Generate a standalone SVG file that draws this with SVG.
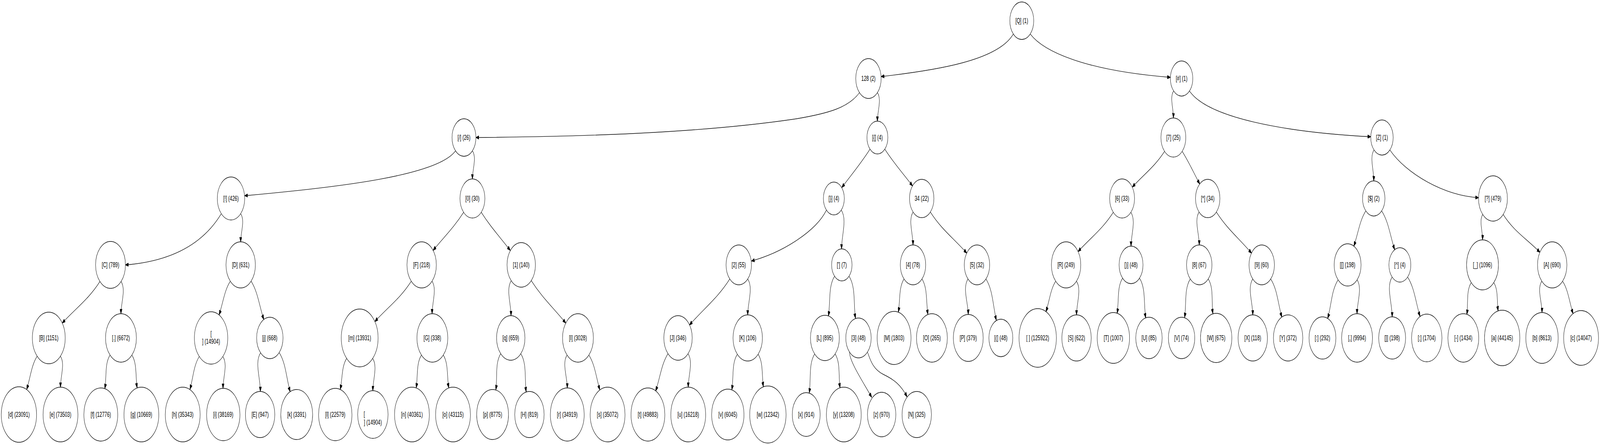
<svg xmlns="http://www.w3.org/2000/svg" width="6428" height="1139" viewBox="0 0 6428 1139" preserveAspectRatio="none">
<defs>
<style>
svg:root{width:100vw;height:100vh}
.node circle{fill:#fff;stroke:#000;stroke-width:1.35}
.node text{font-family:"Liberation Sans",Arial,sans-serif;font-size:18px;text-anchor:middle;fill:#000}
#edges path{fill:none;stroke:#000;stroke-width:1.35;marker-end:url(#ah)}
</style>
<marker id="ah" viewBox="0 0 13 9.5" refX="12.5" refY="4.75" markerWidth="13" markerHeight="9.5" markerUnits="userSpaceOnUse" orient="auto"><path d="M0,0 L13,4.75 L0,9.5 z" fill="#000" stroke="#000" stroke-width="1"/></marker>
</defs>
<rect width="6428" height="1139" fill="#fff"/>
<g id="edges">
<path d="M4071,87 C4010,155 3760,180 3540,196"/>
<path d="M4139,87 C4190,130 4350,180 4702,198"/>
<path d="M3453,237 C3410,275 3330,290 3200,304 C2800,342 2300,350 1912,352"/>
<path d="M3525,237 C3543,255 3525,284 3525,310"/>
<path d="M1830,386 C1760,450 1350,480 983,501"/>
<path d="M1898,386 C1916,404 1898,433 1898,458"/>
<path d="M889,547 C820,620 700,668 504,678"/>
<path d="M967,547 C985,565 967,594 967,619"/>
<path d="M402,720 C356,766 303,790 250,827"/>
<path d="M486,720 C507,741 486,774 486,803"/>
<path d="M149,912 C126,935 122,967 107,997"/>
<path d="M243,912 C262,931 243,963 243,991"/>
<path d="M442,909 C420,931 429,965 421,995"/>
<path d="M530,909 C551,930 544,964 551,993"/>
<path d="M925,720 C901,744 896,776 880,806"/>
<path d="M1009,720 C1036,747 1042,784 1060,818"/>
<path d="M801,912 C778,935 776,967 763,997"/>
<path d="M895,912 C916,933 896,965 896,994"/>
<path d="M1047,903 C1022,927 1046,967 1046,1002"/>
<path d="M1122,903 C1149,930 1150,968 1166,1003"/>
<path d="M1863,543 C1824,582 1783,607 1740,641"/>
<path d="M1933,543 C1971,581 2009,607 2050,641"/>
<path d="M1652,720 C1608,764 1557,787 1506,823"/>
<path d="M1736,720 C1756,740 1736,774 1736,803"/>
<path d="M1393,917 C1372,938 1376,969 1367,997"/>
<path d="M1497,917 C1518,938 1498,971 1498,1000"/>
<path d="M1693,909 C1672,930 1679,964 1672,993"/>
<path d="M1781,909 C1802,930 1795,964 1803,993"/>
<path d="M2054,718 C2032,741 2053,777 2053,808"/>
<path d="M2134,718 C2178,762 2225,789 2273,827"/>
<path d="M2012,905 C1988,929 1999,966 1992,998"/>
<path d="M2092,905 C2117,930 2107,969 2114,1003"/>
<path d="M2278,909 C2257,930 2279,964 2279,993"/>
<path d="M2366,909 C2391,934 2395,967 2410,998"/>
<path d="M3495,382 C3458,419 3422,446 3382,480"/>
<path d="M3555,382 C3591,418 3627,443 3666,476"/>
<path d="M3320,538 C3280,590 3150,645 3019,668"/>
<path d="M3380,538 C3404,562 3381,602 3381,637"/>
<path d="M2932,714 C2882,764 2827,790 2770,832"/>
<path d="M3004,714 C3027,737 3004,774 3004,806"/>
<path d="M2684,905 C2657,932 2652,967 2634,1001"/>
<path d="M2764,905 C2786,927 2765,961 2765,991"/>
<path d="M2962,907 C2939,930 2948,966 2940,998"/>
<path d="M3046,907 C3067,928 3060,961 3067,990"/>
<path d="M3353,707 C3327,733 3337,773 3328,809"/>
<path d="M3411,707 C3439,735 3428,778 3437,815"/>
<path d="M3273,906 C3248,931 3259,971 3251,1006"/>
<path d="M3355,906 C3377,928 3368,962 3375,993"/>
<path d="M3413,901 C3412,925 3470,980 3502,1017"/>
<path d="M3485,901 C3495,918 3505,945 3551,959 C3590,971 3620,985 3644,1016"/>
<path d="M3668,543 C3648,564 3668,598 3668,627"/>
<path d="M3738,543 C3782,587 3833,611 3884,648"/>
<path d="M3632,714 C3610,736 3617,769 3609,799"/>
<path d="M3704,714 C3727,737 3720,773 3728,805"/>
<path d="M3889,714 C3866,737 3889,773 3890,805"/>
<path d="M3961,714 C3989,742 3989,783 4003,820"/>
<path d="M4715,233 C4698,250 4715,278 4714,302"/>
<path d="M4779,233 C4850,300 5150,338 5507,350"/>
<path d="M4679,387 C4639,427 4594,447 4549,479"/>
<path d="M4749,387 C4777,415 4795,442 4820,471"/>
<path d="M4473,543 C4430,586 4381,609 4331,644"/>
<path d="M4543,543 C4565,565 4544,600 4544,630"/>
<path d="M4241,720 C4220,741 4216,771 4202,798"/>
<path d="M4325,720 C4346,741 4325,776 4325,806"/>
<path d="M4510,712 C4487,735 4496,770 4488,802"/>
<path d="M4578,712 C4604,738 4594,778 4603,814"/>
<path d="M4817,543 C4797,564 4818,598 4818,627"/>
<path d="M4887,543 C4930,586 4979,611 5028,648"/>
<path d="M4782,714 C4757,739 4767,779 4759,813"/>
<path d="M4854,714 C4877,737 4866,772 4873,803"/>
<path d="M5033,714 C5010,737 5033,774 5033,806"/>
<path d="M5105,714 C5132,741 5134,777 5150,812"/>
<path d="M5520,384 C5501,403 5520,435 5519,463"/>
<path d="M5584,384 C5650,445 5800,500 5940,506"/>
<path d="M5487,540 C5462,565 5456,599 5439,630"/>
<path d="M5551,540 C5579,568 5585,604 5603,639"/>
<path d="M5376,716 C5349,743 5349,781 5334,815"/>
<path d="M5452,716 C5474,738 5452,773 5452,803"/>
<path d="M5593,709 C5568,734 5593,775 5593,811"/>
<path d="M5655,709 C5683,737 5688,775 5705,810"/>
<path d="M5957,549 C5941,565 5957,591 5956,614"/>
<path d="M6039,549 C6083,593 6135,612 6187,646"/>
<path d="M5911,723 C5890,744 5899,776 5893,805"/>
<path d="M6001,723 C6020,742 6013,771 6019,796"/>
<path d="M6194,720 C6174,740 6195,772 6195,800"/>
<path d="M6278,720 C6301,743 6305,774 6320,803"/>
</g>
<g id="node-Q" class="node"><circle cx="4105" cy="53" r="48"/><text x="4105" y="59">[Q] (1)</text></g>
<g id="node-128" class="node"><circle cx="3489" cy="201" r="51"/><text x="3489" y="207">128 (2)</text></g>
<g id="node-hash" class="node"><circle cx="4747" cy="201" r="45"/><text x="4747" y="207">[#] (1)</text></g>
<g id="node-slash" class="node"><circle cx="1864" cy="352" r="48"/><text x="1864" y="358">[/] (26)</text></g>
<g id="node-lbrace" class="node"><circle cx="3525" cy="352" r="42"/><text x="3525" y="358">[{] (4)</text></g>
<g id="node-7" class="node"><circle cx="4714" cy="352" r="50"/><text x="4714" y="358">[7] (25)</text></g>
<g id="node-Z" class="node"><circle cx="5552" cy="352" r="45"/><text x="5552" y="358">[Z] (1)</text></g>
<g id="node-excl" class="node"><circle cx="928" cy="508" r="55"/><text x="928" y="514">[!] (426)</text></g>
<g id="node-0" class="node"><circle cx="1898" cy="508" r="50"/><text x="1898" y="514">[0] (30)</text></g>
<g id="node-rbrace" class="node"><circle cx="3350" cy="508" r="42"/><text x="3350" y="514">[}] (4)</text></g>
<g id="node-34" class="node"><circle cx="3703" cy="508" r="49"/><text x="3703" y="514">34 (22)</text></g>
<g id="node-6" class="node"><circle cx="4508" cy="508" r="50"/><text x="4508" y="514">[6] (33)</text></g>
<g id="node-star" class="node"><circle cx="4852" cy="508" r="49"/><text x="4852" y="514">[*] (34)</text></g>
<g id="node-dollar" class="node"><circle cx="5519" cy="508" r="45"/><text x="5519" y="514">[$] (2)</text></g>
<g id="node-quest" class="node"><circle cx="5998" cy="508" r="58"/><text x="5998" y="514">[?] (479)</text></g>
<g id="node-C" class="node"><circle cx="444" cy="678" r="60"/><text x="444" y="684">[C] (789)</text></g>
<g id="node-D" class="node"><circle cx="967" cy="678" r="59"/><text x="967" y="684">[D] (631)</text></g>
<g id="node-F" class="node"><circle cx="1694" cy="678" r="59"/><text x="1694" y="684">[F] (218)</text></g>
<g id="node-1" class="node"><circle cx="2094" cy="678" r="57"/><text x="2094" y="684">[1] (140)</text></g>
<g id="node-2" class="node"><circle cx="2968" cy="678" r="51"/><text x="2968" y="684">[2] (55)</text></g>
<g id="node-apos" class="node"><circle cx="3382" cy="678" r="41"/><text x="3382" y="684">['] (7)</text></g>
<g id="node-4" class="node"><circle cx="3668" cy="678" r="51"/><text x="3668" y="684">[4] (78)</text></g>
<g id="node-5" class="node"><circle cx="3925" cy="678" r="51"/><text x="3925" y="684">[5] (32)</text></g>
<g id="node-R" class="node"><circle cx="4283" cy="678" r="59"/><text x="4283" y="684">[R] (249)</text></g>
<g id="node-rparen" class="node"><circle cx="4544" cy="678" r="48"/><text x="4544" y="684">[)] (48)</text></g>
<g id="node-8" class="node"><circle cx="4818" cy="678" r="51"/><text x="4818" y="684">[8] (67)</text></g>
<g id="node-9" class="node"><circle cx="5069" cy="678" r="51"/><text x="5069" y="684">[9] (60)</text></g>
<g id="node-lbrack" class="node"><circle cx="5414" cy="678" r="54"/><text x="5414" y="684">[[] (198)</text></g>
<g id="node-caret" class="node"><circle cx="5624" cy="678" r="44"/><text x="5624" y="684">[^] (4)</text></g>
<g id="node-under" class="node"><circle cx="5956" cy="678" r="64"/><text x="5956" y="684">[_] (1096)</text></g>
<g id="node-A" class="node"><circle cx="6236" cy="678" r="59"/><text x="6236" y="684">[A] (690)</text></g>
<g id="node-B" class="node"><circle cx="196" cy="865" r="66"/><text x="196" y="871">[B] (1151)</text></g>
<g id="node-dot" class="node"><circle cx="486" cy="865" r="62"/><text x="486" y="871">[.] (6672)</text></g>
<g id="node-newline1" class="node"><circle cx="848" cy="865" r="67"/><text x="848" y="860">[</text><text x="848" y="880">] (14904)</text></g>
<g id="node-j" class="node"><circle cx="1084" cy="865" r="53"/><text x="1084" y="871">[j] (668)</text></g>
<g id="node-m" class="node"><circle cx="1445" cy="865" r="74"/><text x="1445" y="871">[m] (13931)</text></g>
<g id="node-G" class="node"><circle cx="1737" cy="865" r="62"/><text x="1737" y="871">[G] (338)</text></g>
<g id="node-q" class="node"><circle cx="2052" cy="865" r="57"/><text x="2052" y="871">[q] (659)</text></g>
<g id="node-I" class="node"><circle cx="2322" cy="865" r="62"/><text x="2322" y="871">[I] (3028)</text></g>
<g id="node-J" class="node"><circle cx="2724" cy="865" r="57"/><text x="2724" y="871">[J] (346)</text></g>
<g id="node-K" class="node"><circle cx="3004" cy="865" r="59"/><text x="3004" y="871">[K] (106)</text></g>
<g id="node-L" class="node"><circle cx="3314" cy="865" r="58"/><text x="3314" y="871">[L] (895)</text></g>
<g id="node-3" class="node"><circle cx="3449" cy="865" r="51"/><text x="3449" y="871">[3] (48)</text></g>
<g id="node-M" class="node"><circle cx="3592" cy="865" r="68"/><text x="3592" y="871">[M] (1803)</text></g>
<g id="node-O" class="node"><circle cx="3744" cy="865" r="62"/><text x="3744" y="871">[O] (265)</text></g>
<g id="node-P" class="node"><circle cx="3890" cy="865" r="60"/><text x="3890" y="871">[P] (379)</text></g>
<g id="node-lparen" class="node"><circle cx="4021" cy="865" r="48"/><text x="4021" y="871">[(] (48)</text></g>
<g id="node-space" class="node"><circle cx="4169" cy="865" r="75"/><text x="4169" y="871">[ ] (125922)</text></g>
<g id="node-S" class="node"><circle cx="4325" cy="865" r="59"/><text x="4325" y="871">[S] (622)</text></g>
<g id="node-T" class="node"><circle cx="4473" cy="865" r="65"/><text x="4473" y="871">[T] (1007)</text></g>
<g id="node-U" class="node"><circle cx="4616" cy="865" r="53"/><text x="4616" y="871">[U] (85)</text></g>
<g id="node-V" class="node"><circle cx="4747" cy="865" r="53"/><text x="4747" y="871">[V] (74)</text></g>
<g id="node-W" class="node"><circle cx="4886" cy="865" r="63"/><text x="4886" y="871">[W] (675)</text></g>
<g id="node-X" class="node"><circle cx="5033" cy="865" r="59"/><text x="5033" y="871">[X] (118)</text></g>
<g id="node-Y" class="node"><circle cx="5175" cy="865" r="59"/><text x="5175" y="871">[Y] (372)</text></g>
<g id="node-colon" class="node"><circle cx="5313" cy="865" r="54"/><text x="5313" y="871">[:] (292)</text></g>
<g id="node-comma" class="node"><circle cx="5452" cy="865" r="62"/><text x="5452" y="871">[,] (9994)</text></g>
<g id="node-rbrack" class="node"><circle cx="5593" cy="865" r="54"/><text x="5593" y="871">[]] (198)</text></g>
<g id="node-semi" class="node"><circle cx="5732" cy="865" r="61"/><text x="5732" y="871">[;] (1704)</text></g>
<g id="node-dash" class="node"><circle cx="5879" cy="865" r="62"/><text x="5879" y="871">[-] (1434)</text></g>
<g id="node-a" class="node"><circle cx="6035" cy="865" r="71"/><text x="6035" y="871">[a] (44145)</text></g>
<g id="node-b" class="node"><circle cx="6195" cy="865" r="65"/><text x="6195" y="871">[b] (8613)</text></g>
<g id="node-c" class="node"><circle cx="6352" cy="865" r="70"/><text x="6352" y="871">[c] (14047)</text></g>
<g id="node-d" class="node"><circle cx="76" cy="1061" r="71"/><text x="76" y="1067">[d] (23091)</text></g>
<g id="node-e" class="node"><circle cx="243" cy="1061" r="70"/><text x="243" y="1067">[e] (73503)</text></g>
<g id="node-f" class="node"><circle cx="405" cy="1061" r="68"/><text x="405" y="1067">[f] (12776)</text></g>
<g id="node-g" class="node"><circle cx="568" cy="1061" r="70"/><text x="568" y="1067">[g] (10669)</text></g>
<g id="node-h" class="node"><circle cx="734" cy="1061" r="70"/><text x="734" y="1067">[h] (35343)</text></g>
<g id="node-i" class="node"><circle cx="897" cy="1061" r="67"/><text x="897" y="1067">[i] (38169)</text></g>
<g id="node-E" class="node"><circle cx="1045" cy="1061" r="59"/><text x="1045" y="1067">[E] (947)</text></g>
<g id="node-k" class="node"><circle cx="1192" cy="1061" r="64"/><text x="1192" y="1067">[k] (3391)</text></g>
<g id="node-l" class="node"><circle cx="1347" cy="1061" r="67"/><text x="1347" y="1067">[l] (22579)</text></g>
<g id="node-newline2" class="node"><circle cx="1498" cy="1061" r="61"/><text x="1461" y="1066" style="text-anchor:start">[</text><text x="1498" y="1087">] (14904)</text></g>
<g id="node-n" class="node"><circle cx="1655" cy="1061" r="70"/><text x="1655" y="1067">[n] (40361)</text></g>
<g id="node-o" class="node"><circle cx="1820" cy="1061" r="70"/><text x="1820" y="1067">[o] (43115)</text></g>
<g id="node-p" class="node"><circle cx="1979" cy="1061" r="64"/><text x="1979" y="1067">[p] (8775)</text></g>
<g id="node-H" class="node"><circle cx="2127" cy="1061" r="59"/><text x="2127" y="1067">[H] (819)</text></g>
<g id="node-r" class="node"><circle cx="2279" cy="1061" r="68"/><text x="2279" y="1067">[r] (34919)</text></g>
<g id="node-s" class="node"><circle cx="2441" cy="1061" r="70"/><text x="2441" y="1067">[s] (35072)</text></g>
<g id="node-t" class="node"><circle cx="2603" cy="1061" r="68"/><text x="2603" y="1067">[t] (49883)</text></g>
<g id="node-u" class="node"><circle cx="2765" cy="1061" r="70"/><text x="2765" y="1067">[u] (16218)</text></g>
<g id="node-v" class="node"><circle cx="2924" cy="1061" r="65"/><text x="2924" y="1067">[v] (6045)</text></g>
<g id="node-w" class="node"><circle cx="3085" cy="1061" r="73"/><text x="3085" y="1067">[w] (12342)</text></g>
<g id="node-x" class="node"><circle cx="3239" cy="1061" r="56"/><text x="3239" y="1067">[x] (914)</text></g>
<g id="node-y" class="node"><circle cx="3390" cy="1061" r="70"/><text x="3390" y="1067">[y] (13208)</text></g>
<g id="node-z" class="node"><circle cx="3542" cy="1061" r="57"/><text x="3542" y="1067">[z] (970)</text></g>
<g id="node-N" class="node"><circle cx="3683" cy="1061" r="59"/><text x="3683" y="1067">[N] (325)</text></g>
</svg>
